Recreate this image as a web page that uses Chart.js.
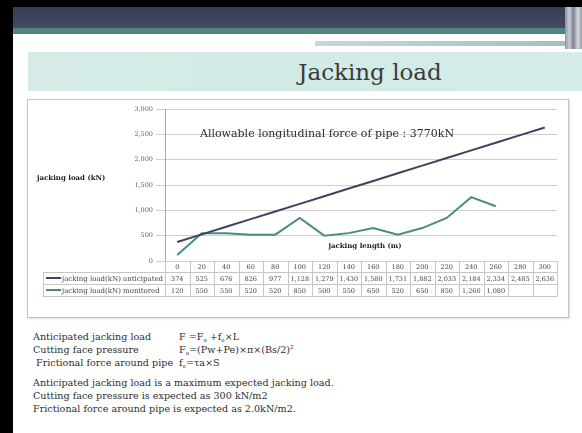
<!DOCTYPE html>
<html>
<head>
<meta charset="utf-8">
<script src="https://cdn.jsdelivr.net/npm/chart.js@4"></script>
<style>
  body { margin: 0; width: 582px; height: 433px; background: #fff; position: relative; overflow: hidden; font-family: "DejaVu Serif", serif; color: #333; }
  .abs { position: absolute; }
  #box { left: 27px; top: 99px; width: 540px; height: 217px; border: 1px solid #c4c4c4; box-shadow: 1px 1px 2px #ddd; }
  .txt { font-size: 9.6px; line-height: 13px; white-space: pre; color: #2e2e2e; }
  sub, sup { font-size: 5.5px; line-height: 0; position: relative; vertical-align: baseline; }
  sub { top: 1.5px; }
  sup { top: -4px; }
</style>
</head>
<body>
<div class="abs" style="left:0;top:0;width:582px;height:7px;background:#000"></div>
<div class="abs" style="left:0;top:0;width:13px;height:433px;background:#000"></div>
<div class="abs" style="left:13px;top:7px;width:569px;height:21px;background:linear-gradient(#3a3c55,#454962)"></div>
<div class="abs" style="left:13px;top:28px;width:552px;height:6px;background:#4f8683"></div>
<div class="abs" style="left:315px;top:41px;width:250px;height:5px;background:linear-gradient(90deg,#c8d8d6,#a6bfbd)"></div>
<div class="abs" style="left:565px;top:7px;width:17px;height:42px;background:linear-gradient(90deg,#8c93a0,#c9ccd2,#7d8594,#d6d8dc,#9aa1ab)"></div>
<div class="abs" style="left:28px;top:52px;width:554px;height:39px;background:linear-gradient(90deg,#d7ece8,#d2ebe6 40%,#d5ece8)"></div>
<div class="abs" style="left:158px;top:54px;width:424px;font-size:23px;line-height:36px;color:#3b3b3b;text-align:center;">Jacking load</div>

<div id="box" class="abs"><canvas id="chart" width="540" height="217"></canvas></div>

<div class="abs txt" style="left:33px;top:330px">Anticipated jacking load</div>
<div class="abs txt" style="left:179px;top:330px">F =F<sub>o</sub> +f<sub>o</sub>×L</div>
<div class="abs txt" style="left:33px;top:343px">Cutting face pressure</div>
<div class="abs txt" style="left:179px;top:343px">F<sub>o</sub>=(Pw+Pe)×π×(Bs/2)<sup>2</sup></div>
<div class="abs txt" style="left:36px;top:356px">Frictional force around pipe</div>
<div class="abs txt" style="left:179px;top:356px">f<sub>o</sub>=τa×S</div>
<div class="abs txt" style="left:33px;top:376px">Anticipated jacking load is a maximum expected jacking load.</div>
<div class="abs txt" style="left:33px;top:389px">Cutting face pressure is expected as 300 kN/m2</div>
<div class="abs txt" style="left:33px;top:402px">Frictional force around pipe is expected as 2.0kN/m2.</div>

<script>
const lengths = ["0", "20", "40", "60", "80", "100", "120", "140", "160", "180", "200", "220", "240", "260", "280", "300"];
const anticipated = [374, 525, 676, 826, 977, 1128, 1279, 1430, 1580, 1731, 1882, 2033, 2184, 2334, 2485, 2636];
const monitored = [120, 550, 550, 520, 520, 850, 500, 550, 650, 520, 650, 850, 1260, 1080, null, null];
const seriesNames = ["jacking load(kN) anticipated", "jacking load(kN) monitored"];
const seriesColors = ["#3f4260", "#4a8d7e"];

const fmt = v => (v === null ? "" : v.toLocaleString("en-US"));
const serif = "'DejaVu Serif', serif";

// draws the data table, axis titles and the note inside the chart
const tablePlugin = {
  id: "dataTable",
  afterDraw(chart) {
    const ctx = chart.ctx;
    const area = chart.chartArea;
    const x = chart.scales.x;
    const y = chart.scales.y;
    const colW = (area.right - area.left) / lengths.length;
    const top = area.bottom;
    const r1 = top + 11, r2 = r1 + 12, r3 = r2 + 12;
    const tableLeft = 15;

    ctx.save();
    ctx.strokeStyle = "#c6c6c6";
    ctx.lineWidth = 1;
    ctx.beginPath();
    for (let i = 0; i <= lengths.length; i++) {
      const xx = Math.round(area.left + i * colW) + 0.5;
      ctx.moveTo(xx, top);
      ctx.lineTo(xx, r3);
    }
    [r1, r2, r3].forEach(yy => {
      ctx.moveTo(tableLeft, yy + 0.5);
      ctx.lineTo(area.right, yy + 0.5);
    });
    ctx.moveTo(tableLeft + 0.5, r1);
    ctx.lineTo(tableLeft + 0.5, r3);
    ctx.stroke();

    ctx.fillStyle = "#444";
    ctx.font = "6.5px " + serif;
    ctx.textAlign = "center";
    ctx.textBaseline = "middle";
    lengths.forEach((lab, i) => {
      const cx = x.getPixelForValue(i);
      ctx.fillText(lab, cx, (top + r1) / 2 + 1);
      ctx.fillText(fmt(anticipated[i]), cx, (r1 + r2) / 2 + 1);
      ctx.fillText(fmt(monitored[i]), cx, (r2 + r3) / 2 + 1);
    });

    // legend keys in the table
    ctx.textAlign = "left";
    ctx.font = "7px " + serif;
    [[r1, r2], [r2, r3]].forEach(([a, b], k) => {
      const my = (a + b) / 2;
      ctx.strokeStyle = seriesColors[k];
      ctx.lineWidth = 2;
      ctx.beginPath();
      ctx.moveTo(tableLeft + 3, my);
      ctx.lineTo(tableLeft + 18, my);
      ctx.stroke();
      ctx.fillStyle = "#444";
      ctx.fillText(seriesNames[k], tableLeft + 19, my + 1);
    });

    // axis titles
    ctx.font = "bold 7px " + serif;
    ctx.fillStyle = "#222";
    ctx.textAlign = "left";
    ctx.fillText("jacking load (kN)", 9, 78);
    ctx.textAlign = "center";
    ctx.fillText("jacking length (m)", 337, area.bottom - 15);

    // allowable force note
    ctx.font = "11px " + serif;
    ctx.fillStyle = "#2e2e2e";
    ctx.textAlign = "left";
    ctx.fillText("Allowable longitudinal force of pipe : 3770kN", 172, y.getPixelForValue(2500));
    ctx.restore();
  }
};

new Chart(document.getElementById("chart"), {
  type: "line",
  data: {
    labels: lengths,
    datasets: [
      { label: seriesNames[0], data: anticipated, borderColor: seriesColors[0], borderWidth: 2, pointRadius: 0, tension: 0 },
      { label: seriesNames[1], data: monitored, borderColor: seriesColors[1], borderWidth: 2, pointRadius: 0, tension: 0 }
    ]
  },
  options: {
    responsive: false,
    animation: false,
    layout: { padding: { left: 0, right: 11, top: 9, bottom: 21 } },
    plugins: { legend: { display: false }, tooltip: { enabled: false } },
    scales: {
      x: {
        offset: true,
        ticks: { display: false },
        grid: { display: false },
        border: { display: false },
        afterFit: s => { s.height = 35; }
      },
      y: {
        min: 0,
        max: 3000,
        ticks: { stepSize: 500, padding: 3, color: "#666", font: { family: serif, size: 6.5 }, callback: v => v.toLocaleString("en-US") },
        grid: { color: "#cfcfcf", tickLength: 9 },
        border: { display: true, color: "#a8a8a8" },
        afterFit: s => { s.width = 137; }
      }
    }
  },
  plugins: [tablePlugin]
});
</script>
</body>
</html>
